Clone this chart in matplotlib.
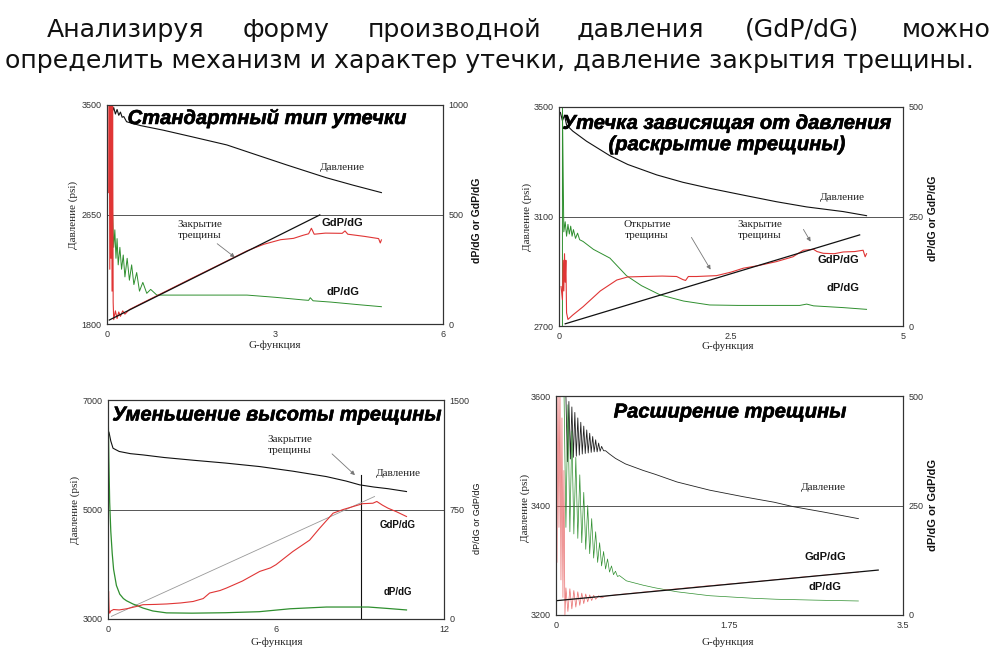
import matplotlib
matplotlib.use('Agg')
import matplotlib.pyplot as plt
import matplotlib.patheffects as pe

W, H = 1001, 656
fig = plt.figure(figsize=(W / 100, H / 100), dpi=100)

SERIF = 'Liberation Serif'
SANS = 'Liberation Sans'
RED = '#e03535'
GREEN = '#2f8f2f'
BLACK = '#111111'

# ---------------- DATA ----------------
header_line1 = ["Анализируя", "форму", "производной", "давления", "(GdP/dG)", "можно"]
header_line2 = "определить механизм и характер утечки, давление закрытия трещины."

titles = ["Стандартный тип утечки",
          "Утечка зависящая от давления\n(раскрытие трещины)",
          "Уменьшение высоты трещины",
          "Расширение трещины"]

# Panel 1 : standard leak-off
p1_xticks = [0, 3, 6]
p1_xticklabels = ["0", "3", "6"]
p1_yticks_l = [1800, 2650, 3500]
p1_yticks_r = [0, 500, 1000]
p1_press_g = [0.06, 0.09, 0.12, 0.15, 0.18, 0.21, 0.24, 0.27, 0.30, 0.35, 0.6, 1.0, 1.5, 2.14, 2.6, 3.2, 3.92, 4.4, 4.9]
p1_press_p = [3500, 3440, 3480, 3430, 3465, 3420, 3445, 3405, 3410, 3370, 3340, 3305, 3255, 3190, 3123, 3036, 2935, 2877, 2820]
p1_gdp_g = [0.03, 0.04, 0.05, 0.06, 0.07, 0.08, 0.09, 0.10, 0.11, 0.12, 0.15, 0.18, 0.21, 0.24, 0.28, 0.32, 0.4,
            0.6, 1.0, 1.5, 2.0, 2.5, 2.8, 3.1, 3.33, 3.5, 3.6, 3.65, 3.7, 3.9, 4.2, 4.25, 4.3, 4.6, 4.85, 4.88, 4.9]
p1_gdp_v = [600, 1050, 250, 1050, 300, 1050, 150, 1050, 100, 20, 60, 25, 55, 35, 60, 45, 66,
            92, 143, 207, 270, 334, 364, 385, 391, 405, 412, 437, 410, 415, 414, 425, 410, 400, 390, 370, 384]
p1_dp_g = [0.04, 0.07, 0.10, 0.12, 0.14, 0.16, 0.18, 0.20, 0.23, 0.26, 0.29, 0.32, 0.36, 0.40, 0.44, 0.48, 0.53,
           0.58, 0.64, 0.71, 0.78, 0.89, 1.5, 2.5, 3.0, 3.5, 3.6, 3.63, 3.68, 4.0, 4.5, 4.9]
p1_dp_v = [1050, 700, 500, 350, 430, 300, 390, 270, 350, 250, 315, 215, 300, 200, 270, 180, 235,
           150, 190, 140, 158, 132, 132, 132, 122, 110, 108, 120, 106, 100, 88, 79]
p1_tan_g = [0.04, 3.8]
p1_tan_v = [18, 498]

# Panel 2 : pressure-dependent leak-off
p2_xticks = [0, 2.5, 5]
p2_xticklabels = ["0", "2.5", "5"]
p2_yticks_l = [2700, 3100, 3500]
p2_yticks_r = [0, 250, 500]
p2_press_g = [0.02, 0.05, 0.08, 0.11, 0.2, 0.4, 0.74, 1.0, 1.42, 1.8, 2.19, 2.7, 3.16, 3.6, 4.13, 4.47]
p2_press_p = [3480, 3450, 3470, 3434, 3412, 3375, 3322, 3290, 3252, 3225, 3203, 3177, 3154, 3135, 3118, 3103]
p2_gdp_g = [0.03, 0.05, 0.06, 0.07, 0.08, 0.09, 0.10, 0.11, 0.13, 0.2, 0.35, 0.6, 0.84, 1.0, 1.23, 1.5, 1.71,
            1.8, 1.84, 1.88, 2.0, 2.29, 2.5, 2.68, 2.9, 3.16, 3.4, 3.55, 3.7, 3.75, 3.84, 4.0, 4.13, 4.3,
            4.42, 4.45, 4.47]
p2_gdp_v = [90, 60, 150, 80, 165, 100, 150, 30, 15, 25, 44, 80, 105, 112, 113, 114, 113,
            106, 104, 113, 113, 115, 123, 132, 138, 147, 158, 173, 175, 170, 166, 165, 169, 170,
            173, 158, 165]
p2_dp_g = [0.05, 0.05, 0.07, 0.09, 0.11, 0.13, 0.15, 0.17, 0.19, 0.21, 0.24, 0.27, 0.3, 0.35, 0.5, 0.74,
           0.98, 1.2, 1.47, 1.81, 2.19, 2.6, 3.16, 3.5, 3.6, 3.7, 4.13, 4.47]
p2_dp_v = [0, 500, 215, 238, 205, 232, 210, 228, 205, 220, 200, 212, 197, 193, 175, 155,
           115, 92, 71, 57, 48, 47, 47, 47, 50, 46, 42, 38]
p2_tan_g = [0.09, 4.37]
p2_tan_v = [5, 208]

# Panel 3 : height recession
p3_xticks = [0, 6, 12]
p3_xticklabels = ["0", "6", "12"]
p3_yticks_l = [3000, 5000, 7000]
p3_yticks_r = [0, 750, 1500]
p3_press_g = [0.0, 0.04, 0.1, 0.18, 0.4, 0.8, 1.25, 2.0, 3.04, 4.2, 5.42, 6.6, 7.8, 8.5, 8.99, 9.5, 10.0, 10.66]
p3_press_p = [6450, 6400, 6250, 6119, 6060, 6020, 5997, 5950, 5900, 5848, 5784, 5700, 5601, 5520, 5450, 5410, 5380, 5328]
p3_gdp_g = [0.0, 0.02, 0.04, 0.06, 0.1, 0.2, 0.4, 0.66, 1.0, 1.25, 1.7, 2.1, 2.6, 3.04, 3.4, 3.63, 4.0, 4.23,
            4.8, 5.42, 5.8, 6.0, 6.6, 7.2, 7.56, 8.04, 8.4, 8.75, 9.1, 9.46, 9.6, 9.8, 10.0, 10.3, 10.66]
p3_gdp_v = [0, 190, 60, 40, 55, 65, 62, 70, 85, 98, 100, 103, 110, 120, 140, 178, 195, 212,
            260, 326, 350, 372, 462, 540, 622, 725, 750, 770, 790, 793, 805, 780, 759, 735, 702]
p3_dp_g = [0.0, 0.0, 0.03, 0.06, 0.1, 0.15, 0.2, 0.3, 0.42, 0.55, 0.66, 0.9, 1.0, 1.25, 1.6, 2.09, 3.0, 4.2,
           5.4, 6.5, 7.8, 9.3, 10.0, 10.66]
p3_dp_v = [0, 1500, 1100, 800, 600, 450, 340, 230, 170, 140, 125, 102, 95, 75, 55, 42, 40, 43,
           50, 70, 82, 82, 72, 62]
p3_tan_g = [0.12, 9.52]
p3_tan_v = [18, 839]
p3_closure_g = [9.05, 9.05]
p3_closure_p = [3000, 5632]

# Panel 4 : fracture extension
p4_xticks = [0, 1.75, 3.5]
p4_xticklabels = ["0", "1.75", "3.5"]
p4_yticks_l = [3200, 3400, 3600]
p4_yticks_r = [0, 250, 500]
p4_press_g = [0.100, 0.115, 0.130, 0.145, 0.160, 0.175, 0.190, 0.205, 0.220, 0.235, 0.250, 0.265, 0.280, 0.295,
              0.310, 0.325, 0.340, 0.355, 0.370, 0.385, 0.400, 0.415, 0.430, 0.445, 0.460, 0.480, 0.500, 0.54,
              0.6, 0.7, 0.88, 1.0, 1.22, 1.55, 1.89, 2.2, 2.39, 2.7, 3.05]
p4_press_p = [3600, 3480, 3590, 3485, 3580, 3488, 3570, 3490, 3560, 3492, 3552, 3494, 3545, 3495,
              3538, 3496, 3532, 3497, 3526, 3498, 3520, 3498, 3514, 3499, 3508, 3500, 3500, 3494,
              3486, 3476, 3464, 3457, 3443, 3428, 3416, 3406, 3398, 3388, 3376]
p4_gdp_g = [0.0, 0.01, 0.02, 0.03, 0.04, 0.05, 0.06, 0.07, 0.08, 0.09, 0.10, 0.12, 0.14, 0.16, 0.18, 0.20,
            0.22, 0.24, 0.26, 0.28, 0.30, 0.32, 0.34, 0.36, 0.38, 0.40, 0.43, 0.46, 0.5, 0.6, 1.0, 1.5,
            2.0, 2.5, 3.05]
p4_gdp_v = [520, 120, 520, 200, 520, 80, 450, 40, 330, 0, 62, 8, 60, 14, 56, 18, 53, 22, 50, 26, 48, 30,
            46, 33, 45, 36, 44, 39, 43, 46, 55, 66, 76, 87, 98]
p4_dp_g = [0.08, 0.10, 0.12, 0.14, 0.16, 0.18, 0.20, 0.22, 0.24, 0.26, 0.28, 0.30, 0.32, 0.34, 0.36, 0.38,
           0.40, 0.42, 0.44, 0.46, 0.48, 0.50, 0.52, 0.54, 0.56, 0.58, 0.60, 0.62, 0.64, 0.71, 0.88, 1.0,
           1.22, 1.55, 2.0, 2.22, 2.6, 3.05]
p4_dp_v = [520, 200, 480, 190, 420, 185, 360, 175, 320, 165, 280, 150, 250, 140, 220, 130,
           190, 120, 165, 112, 145, 105, 128, 98, 112, 92, 100, 88, 90, 78, 68, 62,
           53, 44, 38, 36, 34, 32]
p4_tan_g = [0.0, 3.25]
p4_tan_v = [32.6, 102.6]

# ---------------- LAYOUT HELPERS ----------------
def fx(x):
    return x / W


def fy(y):
    return 1 - y / H


def panel(box, xticks, xlabels, yl, yr):
    l, t, r, b = box
    ax = fig.add_axes([fx(l), fy(b), (r - l) / W, (b - t) / H])
    ax.set_xlim(xticks[0], xticks[-1])
    ax.set_ylim(yl[0], yl[-1])
    ax.set_xticks(xticks)
    ax.set_xticklabels(xlabels)
    ax.set_yticks(yl)
    ax2 = ax.twinx()
    ax2.set_ylim(yr[0], yr[-1])
    ax2.set_yticks(yr)
    for a in (ax, ax2):
        a.tick_params(length=0, labelsize=6.5, colors='#333333', pad=4)
        for lab in a.get_xticklabels() + a.get_yticklabels():
            lab.set_fontfamily(SANS)
        for s in a.spines.values():
            s.set_color('#333333')
            s.set_linewidth(0.8)
    ax.axhline(yl[1], color='#555555', lw=0.7, zorder=1)
    return ax, ax2


def ftext(x, y, s, **kw):
    return fig.text(fx(x), fy(y), s, **kw)


def arrow(x0, y0, x1, y1):
    fig.add_artist(matplotlib.patches.FancyArrowPatch(
        (fx(x0), fy(y0)), (fx(x1), fy(y1)), transform=fig.transFigure,
        arrowstyle='-|>', mutation_scale=6, color='#777777', lw=0.6))


serif_kw = dict(family=SERIF, fontsize=8, color='#222222', ha='center', va='center')
bold_kw = dict(family=SANS, fontsize=8, fontweight='bold', color='#111111', ha='center', va='center')
title_kw = dict(family=SANS, fontsize=14.5, fontweight='bold', fontstyle='italic', color='black',
                ha='center', va='center', linespacing=1.15,
                path_effects=[pe.withStroke(linewidth=0.4, foreground='black')])

# ---------------- HEADER ----------------
hdr_x = [47, 243, 368, 577, 745, 902]
for word, x in zip(header_line1, hdr_x):
    ftext(x, 37, word, family='DejaVu Sans', fontsize=18.2, ha='left', va='baseline', color='#111111')
ftext(5, 68, header_line2, family='DejaVu Sans', fontsize=18.2, ha='left', va='baseline', color='#111111')

# ---------------- PANEL 1 ----------------
ax, ax2 = panel((107, 105, 443, 324), p1_xticks, p1_xticklabels, p1_yticks_l, p1_yticks_r)
ax.plot(p1_press_g, p1_press_p, color=BLACK, lw=0.8)
ax2.plot(p1_dp_g, p1_dp_v, color=GREEN, lw=0.7)
ax2.plot(p1_gdp_g, p1_gdp_v, color=RED, lw=0.8)
ax2.plot(p1_tan_g, p1_tan_v, color=BLACK, lw=0.9)
ftext(267, 118, titles[0], **title_kw)
ftext(342, 167, "Давление", **serif_kw)
ftext(342, 223, "GdP/dG", **bold_kw)
ftext(343, 292, "dP/dG", **bold_kw)
ftext(200, 230, "Закрытие\nтрещины", **serif_kw)
arrow(215, 242, 237, 259)
ftext(73, 215, "Давление (psi)", rotation=90, **serif_kw)
ftext(275, 345, "G-функция", **serif_kw)
ftext(477, 220, "dP/dG or GdP/dG", rotation=90, **dict(bold_kw, fontsize=7.5))

# ---------------- PANEL 2 ----------------
ax, ax2 = panel((559, 107, 903, 326), p2_xticks, p2_xticklabels, p2_yticks_l, p2_yticks_r)
ax.plot(p2_press_g, p2_press_p, color=BLACK, lw=0.8)
ax2.plot(p2_dp_g, p2_dp_v, color=GREEN, lw=0.7)
ax2.plot(p2_gdp_g, p2_gdp_v, color=RED, lw=0.8)
ax2.plot(p2_tan_g, p2_tan_v, color=BLACK, lw=0.9)
ftext(727, 134, titles[1], **title_kw)
ftext(842, 198, "Давление", **serif_kw)
ftext(647, 230, "Открытие\nтрещины", **serif_kw)
ftext(760, 230, "Закрытие\nтрещины", **serif_kw)
arrow(690, 235, 712, 272)
arrow(802, 227, 812, 244)
ftext(838, 260, "GdP/dG", **bold_kw)
ftext(843, 288, "dP/dG", **bold_kw)
ftext(527, 217, "Давление (psi)", rotation=90, **serif_kw)
ftext(728, 346, "G-функция", **serif_kw)
ftext(933, 218, "dP/dG or GdP/dG", rotation=90, **dict(bold_kw, fontsize=7.5))

# ---------------- PANEL 3 ----------------
ax, ax2 = panel((108, 400, 444, 619), p3_xticks, p3_xticklabels, p3_yticks_l, p3_yticks_r)
ax.plot(p3_press_g, p3_press_p, color=BLACK, lw=0.8)
ax.plot(p3_closure_g, p3_closure_p, color=BLACK, lw=0.8)
ax2.plot(p3_tan_g, p3_tan_v, color='#999999', lw=0.6)
ax2.plot(p3_dp_g, p3_dp_v, color=GREEN, lw=0.9)
ax2.plot(p3_gdp_g, p3_gdp_v, color=RED, lw=0.8)
ftext(277, 415, titles[2], **title_kw)
ftext(290, 445, "Закрытие\nтрещины", **serif_kw)
arrow(330, 452, 357, 477)
ftext(398, 473, "Давление", **serif_kw)
ftext(398, 525, "GdP/dG", **dict(bold_kw, fontsize=7))
ftext(398, 592, "dP/dG", **dict(bold_kw, fontsize=7))
ftext(75, 510, "Давление (psi)", rotation=90, **serif_kw)
ftext(277, 642, "G-функция", **serif_kw)
ftext(477, 518, "dP/dG or GdP/dG", rotation=90, **dict(bold_kw, fontsize=6.5, fontweight='normal'))

# ---------------- PANEL 4 ----------------
ax, ax2 = panel((556, 396, 903, 615), p4_xticks, p4_xticklabels, p4_yticks_l, p4_yticks_r)
ax.plot(p4_press_g, p4_press_p, color='#222222', lw=0.6)
ax2.plot(p4_dp_g, p4_dp_v, color=GREEN, lw=0.5)
ax2.plot(p4_gdp_g, p4_gdp_v, color='#e86a6a', lw=0.5)
ax2.plot(p4_tan_g, p4_tan_v, color=BLACK, lw=0.9)
ftext(730, 412, titles[3], **title_kw)
ftext(823, 488, "Давление", **serif_kw)
ftext(825, 557, "GdP/dG", **bold_kw)
ftext(825, 587, "dP/dG", **bold_kw)
ftext(525, 508, "Давление (psi)", rotation=90, **serif_kw)
ftext(728, 642, "G-функция", **serif_kw)
ftext(933, 505, "dP/dG or GdP/dG", rotation=90, **dict(bold_kw, fontsize=8))

fig.savefig('out.png', dpi=100)
